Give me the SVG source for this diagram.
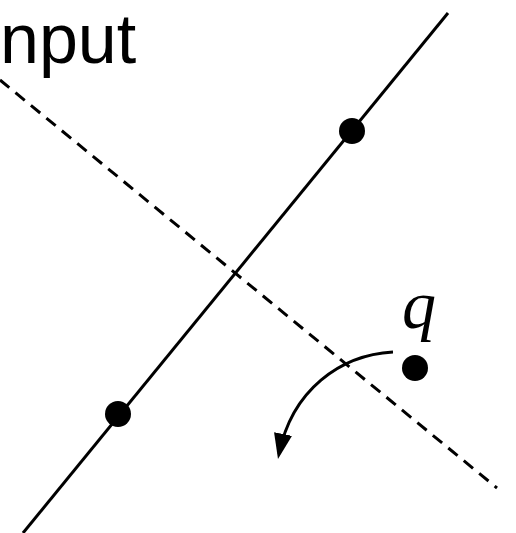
<svg xmlns="http://www.w3.org/2000/svg" width="516" height="533" viewBox="0 0 516 533">
<style>
.ln{stroke:#000;stroke-width:3;fill:none}
.dash{stroke-dasharray:12 8}
.pt{fill:#000}
</style>
<defs>
<marker id="ah" viewBox="0 0 10 10" refX="8" refY="5" markerWidth="8.5" markerHeight="8.5" markerUnits="strokeWidth" orient="auto"><path d="M0,1.4 L10,5 L0,8.6 Z" fill="#000"/></marker>
</defs>
<rect width="516" height="533" fill="#fff"/>
<text x="0" y="63" font-family="Liberation Sans, sans-serif" font-size="70">nput</text>
<g id="connectors">
<line class="ln" x1="448" y1="13" x2="23" y2="533"/>
<line class="ln dash" x1="0" y1="80" x2="497" y2="488"/>
<path class="ln" d="M393,352 C340,355 292,390 279,454" marker-end="url(#ah)"/>
</g>
<g id="p1"><circle class="pt" cx="352" cy="131" r="13"/></g>
<g id="p2"><circle class="pt" cx="118" cy="414" r="13"/></g>
<g id="q"><circle class="pt" cx="415" cy="368" r="13"/>
<text x="402" y="328" font-family="Liberation Serif, serif" font-style="italic" font-size="68">q</text></g>
</svg>
